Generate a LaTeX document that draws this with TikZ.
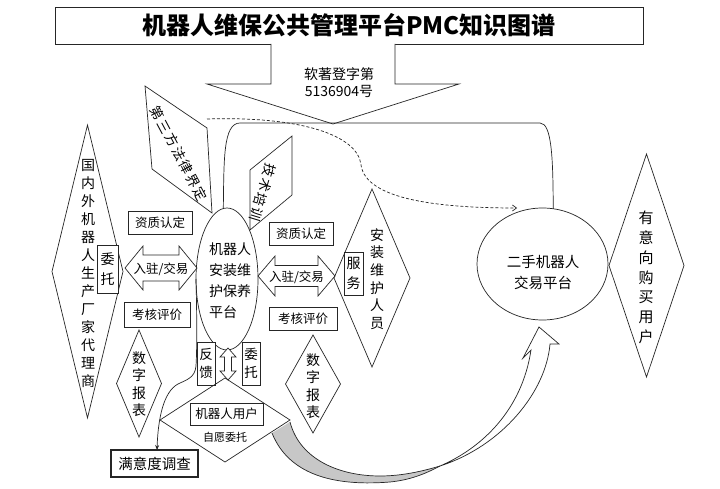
\documentclass[tikz,border=0pt]{standalone}
\usepackage{fontspec}
\setmainfont{Noto Sans CJK SC}
\usetikzlibrary{shapes.geometric,arrows.meta}
\newcommand\myfs[2]{\fontsize{#1}{#2}\selectfont}
\newcommand\gap{\kern1.8pt}
\begin{document}
\begin{tikzpicture}[x=1pt,y=-1pt,line width=0.7pt,
  every node/.style={inner sep=0pt,outer sep=0pt,text=black},
  ln/.style={draw=black!85},
  tbox/.style={draw=black!85,fill=white,rectangle,align=center,font=\myfs{12.5}{15}},
  vbox/.style={draw=black!85,fill=white,rectangle,align=center,font=\myfs{13.5}{19}},
  dia/.style={draw=black!85,diamond},
  vtxt/.style={align=center,font=\myfs{14}{#1}},
  blk/.style={draw=black!85,fill=white,line join=miter}]
\useasboundingbox (0,0) rectangle (720,489);
\fill[white] (0,0) rectangle (720,489);

% title
\node[draw=black!85,minimum width=588pt,minimum height=37pt,font=\myfs{24}{28}\bfseries] (title) at (349,25.5) {机器人维保公共管理平台PMC知识图谱};
% down block arrow
\draw[blk] (271,44) -- (271,84) -- (207,84) -- (333,124) -- (459,84) -- (395,84) -- (395,44);
\node[align=center,font=\myfs{14}{17}] (reg) at (339,82.5) {软著登字第\\5136904号};

% ellipses
\node[ellipse,draw=black!85,minimum width=62pt,minimum height=142pt] (e1) at (227,279) {};
\node[align=left,font=\myfs{14}{21}] (e1t) at (230,281) {机器人\\安装维\\护保养\\平台};
\node[ellipse,draw=black!85,minimum width=131pt,minimum height=112pt] (e2) at (542.5,264) {};
\node[align=center,font=\myfs{14.5}{21}] (e2t) at (543,272.5) {二手机器人\\交易平台};

% connector platform -> second-hand platform
\draw[ln] (e1.93) .. controls (224,160) and (223,123) .. (240,123) -- (540,123) .. controls (552,123) and (553,160) .. (e2.79);
% dashed curve
\coordinate (ds) at (207,119);
\coordinate (de) at (517,208);
\draw[ln,dash pattern=on 3pt off 2pt,-{Straight Barb[length=4pt,width=6pt]}] (ds) .. controls (300,116) and (358,135) .. (361,165) .. controls (366,200) and (440,208) .. (de);

% parallelograms
\draw[ln] (145,86) -- (207,128) -- (212,213) -- (152,169) -- cycle;
\node[rotate=-62,font=\myfs{13.5}{15}] (law) at (179,154) {第\gap 三\gap 方\gap 法\gap 律\gap 界\gap 定};
\draw[ln] (250,170) -- (292,136) -- (292,195) -- (250,230) -- cycle;
\node[rotate=-107,font=\myfs{13.5}{15}] (tech) at (263,192.5) {技\gap 术\gap 培\gap 训};

% left diamond
\node[dia,minimum width=71pt,minimum height=293pt] (d1) at (87.5,271.5) {};
\node[vtxt=18] (d1t) at (88,273) {国\\内\\外\\机\\器\\人\\生\\产\\厂\\家\\代\\理\\商};
\node[vbox,minimum width=21pt,minimum height=48pt,font=\myfs{14}{20}] (wt1) at (107.5,269) {委\\托};

% left block double arrow
\draw[blk] (125,268) -- (143,246) -- (143,255) -- (179,255) -- (179,246) -- (197,268) -- (179,290) -- (179,281) -- (143,281) -- (143,290) -- cycle;
\node[font=\myfs{12.5}{15}] (ar1) at (161,269) {入驻/交易};
\node[tbox,minimum width=64pt,minimum height=23pt] (zz1) at (160,222.5) {资质认定};
\node[tbox,minimum width=66pt,minimum height=25pt] (kh1) at (157,314.5) {考核评价};
\node[dia,minimum width=45pt,minimum height=107pt] (sz1) at (139,383.5) {};
\node[vtxt=17.5] (sz1t) at (139,384) {数\\字\\报\\表};

% satisfaction survey
\node[draw=black!85,line width=1.4pt,minimum width=87pt,minimum height=27pt,font=\myfs{14.5}{17}] (myd) at (154.5,463.5) {满意度调查};
\draw[ln,-{Stealth[length=5pt,width=4pt]}] (e1.west) .. controls (197,320) and (197,350) .. (196,366) .. controls (195,378) and (186,380) .. (178,384) .. controls (163,392) and (158,420) .. ([xshift=2.5pt]myd.north);

% feedback / entrust
\node[vbox,minimum width=18pt,minimum height=43pt,font=\myfs{13.5}{18}] (fk) at (206,363.5) {反\\馈};
\node[vbox,minimum width=18pt,minimum height=43pt,font=\myfs{13.5}{18}] (wt2) at (251,363.5) {委\\托};
\draw[blk] (228,348) -- (236,357) -- (231.5,357) -- (231.5,371) -- (236,371) -- (228,380) -- (220,371) -- (224.5,371) -- (224.5,357) -- (220,357) -- cycle;

% bottom diamond
\node[dia,minimum width=130pt,minimum height=84pt] (bd) at (225,420) {};
\node[tbox,minimum width=73pt,minimum height=22pt] (yh) at (226.5,414) {机器人用户};
\node[font=\myfs{11}{13}] (zy) at (225,437.5) {自愿委托};

% big curved arrow
\fill[black!22] (272,433) .. controls (290,478) and (340,486) .. (390,482) .. controls (410,480) and (425,474) .. (440,466) .. controls (420,472) and (400,476) .. (380,476) .. controls (340,476) and (300,460) .. (290,422) -- cycle;
\draw[ln] (272,433) .. controls (290,478) and (340,486) .. (390,482) .. controls (410,480) and (425,474) .. (440,466);
\draw[ln] (290,422) .. controls (300,460) and (340,476) .. (380,476) .. controls (400,476) and (420,472) .. (440,466);
\draw[ln,fill=white,line join=miter] (440,466) .. controls (482,448) and (522,410) .. (531,350) -- (523,358) -- (539,327) -- (559,344) -- (550,344) .. controls (546,392) and (502,446) .. (440,466) -- cycle;

% right side
\node[tbox,minimum width=64pt,minimum height=23pt] (zz2) at (301,233.5) {资质认定};
\draw[blk] (258,276) -- (275,256) -- (275,265.5) -- (318,265.5) -- (318,256) -- (335,276) -- (318,296) -- (318,286.5) -- (275,286.5) -- (275,296) -- cycle;
\node[font=\myfs{12.5}{15}] (ar2) at (296.5,277) {入驻/交易};
\node[tbox,minimum width=68pt,minimum height=23pt] (kh2) at (303,318.5) {考核评价};
\node[dia,minimum width=76pt,minimum height=178pt] (d2) at (372,278) {};
\node[vtxt=17.6] (d2t) at (377,279) {安\\装\\维\\护\\人\\员};
\node[vbox,minimum width=19pt,minimum height=43pt,font=\myfs{14}{20}] (fw) at (353.5,273.5) {服\\务};
\node[dia,minimum width=55pt,minimum height=98pt] (sz2) at (313,384) {};
\node[vtxt=17.5] (sz2t) at (313,386) {数\\字\\报\\表};

% buyers diamond
\node[dia,minimum width=75pt,minimum height=223pt] (d3) at (646.5,265.5) {};
\node[align=center,font=\myfs{15}{19.8}] (d3t) at (646,277.5) {有\\意\\向\\购\\买\\用\\户};
\end{tikzpicture}
\end{document}
